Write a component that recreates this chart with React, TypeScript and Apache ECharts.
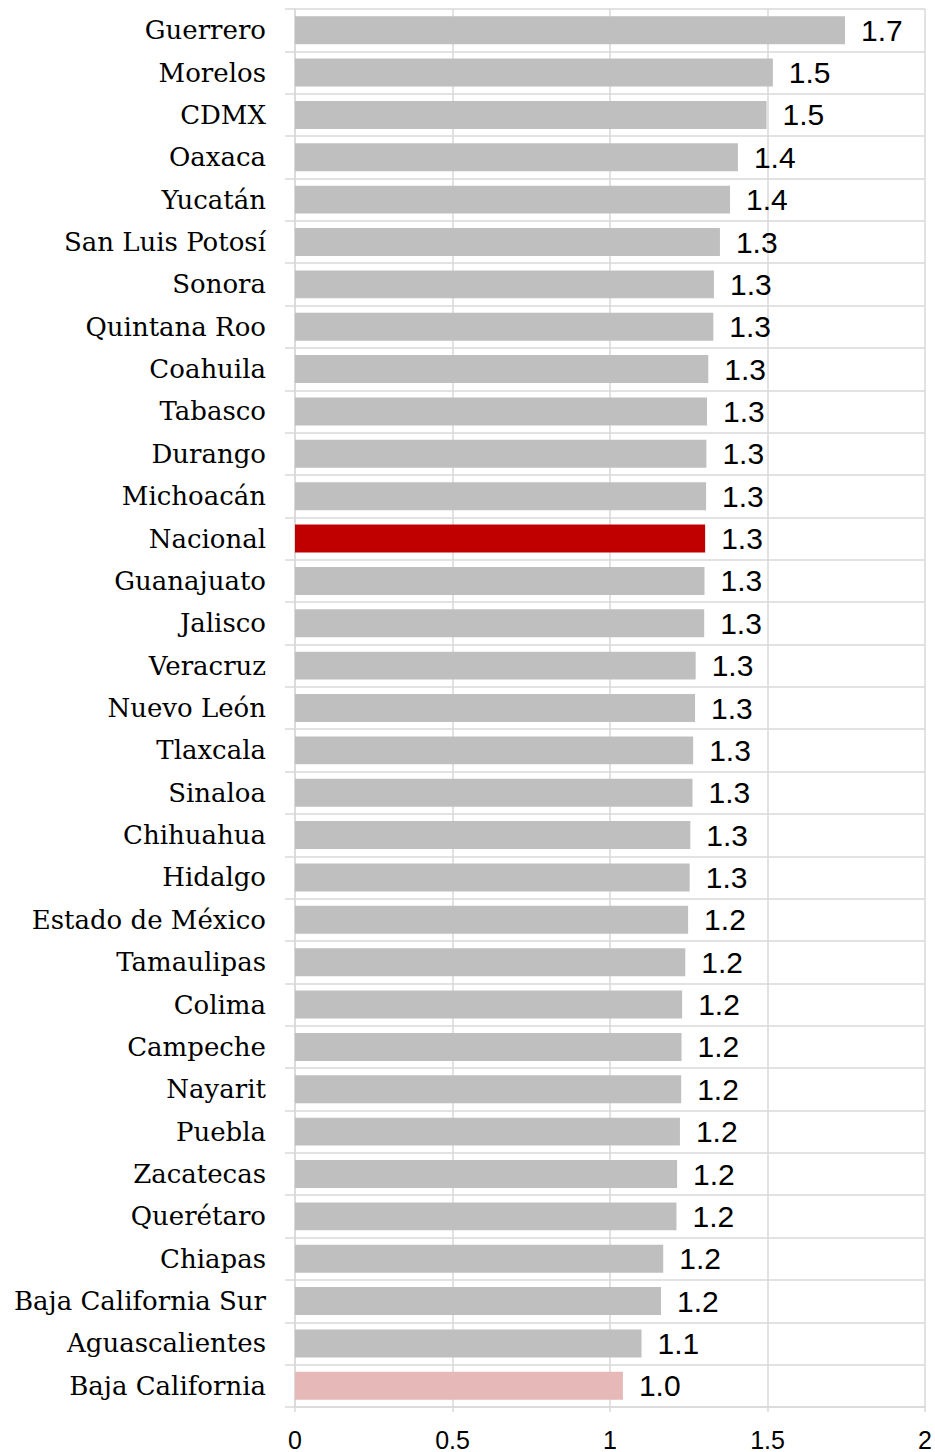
import React, { useEffect, useRef } from "react";
import * as echarts from "echarts";

const categories = [
  "Guerrero", "Morelos", "CDMX", "Oaxaca", "Yucatán", "San Luis Potosí", "Sonora",
  "Quintana Roo", "Coahuila", "Tabasco", "Durango", "Michoacán", "Nacional",
  "Guanajuato", "Jalisco", "Veracruz", "Nuevo León", "Tlaxcala", "Sinaloa",
  "Chihuahua", "Hidalgo", "Estado de México", "Tamaulipas", "Colima", "Campeche",
  "Nayarit", "Puebla", "Zacatecas", "Querétaro", "Chiapas", "Baja California Sur",
  "Aguascalientes", "Baja California",
];

const values = [
  1.746, 1.517, 1.497, 1.406, 1.381, 1.349, 1.33,
  1.328, 1.312, 1.308, 1.306, 1.305, 1.302,
  1.3, 1.299, 1.272, 1.27, 1.264, 1.262,
  1.255, 1.253, 1.248, 1.239, 1.229, 1.227,
  1.226, 1.222, 1.213, 1.211, 1.169, 1.162,
  1.1, 1.041,
];

const xTicks = [0, 0.5, 1, 1.5, 2];

const BAR_GREY = "#bfbfbf";
const NATIONAL_RED = "#c00000";
const LOWEST_PINK = "#e6b8b7";
const GRID_COLOR = "#d9d9d9";

export default function App() {
  const ref = useRef<HTMLDivElement>(null);

  useEffect(() => {
    if (!ref.current) return;
    const chart = echarts.init(ref.current, null, { renderer: "svg" });
    const data = values.map((v, i) => {
      const name = categories[i];
      let color = BAR_GREY;
      if (name === "Nacional") color = NATIONAL_RED;
      else if (name === "Baja California") color = LOWEST_PINK;
      return { value: v, itemStyle: { color } };
    });
    chart.setOption({
      animation: false,
      backgroundColor: "#ffffff",
      grid: { left: 295, right: 10, top: 9, bottom: 44, containLabel: false },
      xAxis: {
        type: "value",
        min: xTicks[0],
        max: xTicks[xTicks.length - 1],
        interval: 0.5,
        axisLine: { show: true, lineStyle: { color: GRID_COLOR, width: 1.5 } },
        axisTick: { show: true, length: 5, lineStyle: { color: GRID_COLOR, width: 1.5 } },
        splitLine: { show: true, lineStyle: { color: GRID_COLOR, width: 1.5 } },
        axisLabel: {
          color: "#000",
          fontFamily: "Liberation Sans, Arial, sans-serif",
          fontSize: 25,
          margin: 20,
          formatter: (v: number) => String(v),
        },
      },
      yAxis: {
        type: "category",
        data: categories,
        inverse: true,
        axisLine: { show: true, lineStyle: { color: GRID_COLOR, width: 1.5 } },
        axisTick: { show: true, length: 10, lineStyle: { color: GRID_COLOR, width: 1.5 } },
        splitLine: { show: true, lineStyle: { color: GRID_COLOR, width: 1.5 } },
        axisLabel: {
          color: "#000",
          fontFamily: "DejaVu Serif, serif",
          fontSize: 26,
          margin: 29,
          padding: [3, 0, 0, 0],
        },
      },
      series: [
        {
          type: "bar",
          data,
          barCategoryGap: "34%",
          label: {
            show: true,
            position: "right",
            distance: 16,
            color: "#000",
            fontFamily: "Liberation Sans, Arial, sans-serif",
            fontSize: 30,
            padding: [4, 0, 0, 0],
            formatter: (p: any) => Number(p.value).toFixed(1),
          },
        },
      ],
    });
    return () => chart.dispose();
  }, []);

  return (
    <div
      ref={ref}
      style={{ position: "absolute", left: 0, top: 0, width: 935, height: 1452 }}
    />
  );
}
